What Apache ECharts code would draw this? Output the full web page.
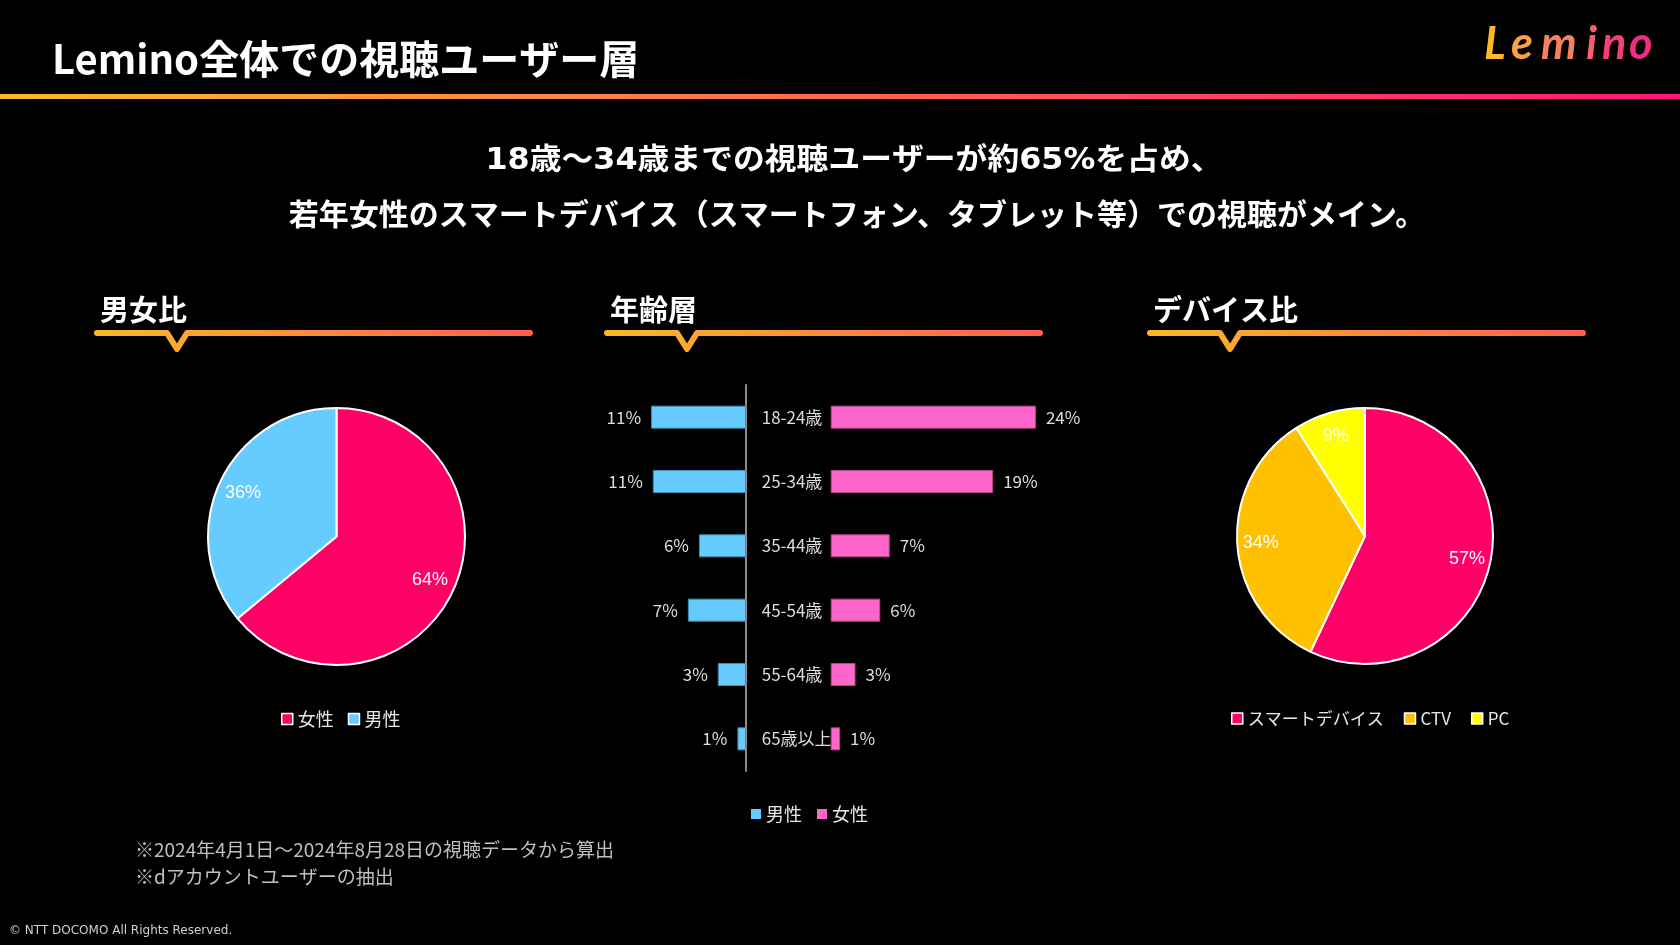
<!DOCTYPE html>
<html><head><meta charset="utf-8">
<script src="https://cdn.jsdelivr.net/npm/echarts@6/dist/echarts.min.js"></script>
<style>html,body{margin:0;padding:0;background:#000;}#c{width:1680px;height:945px;}</style>
</head><body><div id="c"></div>
<script>
// ---- data ----
const genderNames = ['女性', '男性'];
const genderValues = [64, 36];
const deviceNames = ['スマートデバイス', 'CTV', 'PC'];
const deviceValues = [57, 34, 9];
const ageCategories = ['18-24歳', '25-34歳', '35-44歳', '45-54歳', '55-64歳', '65歳以上'];
const ageSeriesNames = ['男性', '女性'];
const ageMale = [11.1, 10.9, 5.5, 6.8, 3.3, 1.0];
const ageFemale = [24.0, 19.0, 6.9, 5.8, 2.9, 1.1];
const titleText = 'Lemino全体での視聴ユーザー層';
const subtitleLines = ['18歳～34歳までの視聴ユーザーが約65%を占め、', '若年女性のスマートデバイス（スマートフォン、タブレット等）での視聴がメイン。'];
const sectionTitles = ['男女比', '年齢層', 'デバイス比'];
const footnotes = ['※2024年4月1日～2024年8月28日の視聴データから算出', '※dアカウントユーザーの抽出'];
const copyright = '© NTT DOCOMO All Rights Reserved.';

// ---- styling ----
const JP = '"Noto Sans CJK JP", sans-serif';
const genderColors = ['#FF0066', '#66CCFF'];
const deviceColors = ['#FF0066', '#FFC000', '#FFFF00'];
const ageColors = ['#66CCFF', '#FF66CC'];
const ageBorders = ['#3F8DB3', '#B9458A'];

const chart = echarts.init(document.getElementById('c'), null, {renderer: 'canvas'});
const LG = echarts.graphic.LinearGradient;

const graphics = [];
graphics.push({type: 'rect', shape: {x: 0, y: 94, width: 1680, height: 5},
  style: {fill: new LG(0, 0, 1, 0, [{offset: 0, color: '#FBBA2A'}, {offset: 0.42, color: '#FF7648'}, {offset: 1, color: '#FF1678'}])}});
graphics.push({type: 'text', style: {text: titleText, x: 52, y: 59, fill: '#fff', font: 'bold 40px ' + JP, textVerticalAlign: 'middle'}});
// logo
const logoLetters = ['L', 'e', 'm', 'i', 'n', 'o'];
const logoX = [1484, 1511, 1541, 1586, 1602, 1629];
const logoC = ['#FBB829', '#F9A148', '#F7805E', '#F55E6E', '#F44079', '#F22A82'];
logoLetters.forEach((ch, i) => graphics.push({type: 'text', style: {text: ch, x: logoX[i], y: 67, fill: logoC[i], font: 'italic bold 45px Lato', textVerticalAlign: 'bottom'}}));
// subtitle
graphics.push({type: 'text', x: 854, y: 161, scaleX: 1.06, style: {text: subtitleLines[0], x: 0, y: 0, fill: '#fff',
  font: 'bold 30px "DejaVu Sans", "Noto Sans CJK JP", sans-serif', textAlign: 'center', textVerticalAlign: 'middle'}});
graphics.push({type: 'text', style: {text: subtitleLines[1], x: 857, y: 214, fill: '#fff', font: 'bold 30px ' + JP, textAlign: 'center', textVerticalAlign: 'middle'}});
const secX = [97, 607, 1150];
sectionTitles.forEach((t, i) => {
  const x0 = secX[i];
  graphics.push({type: 'text', style: {text: t, x: x0 + 3, y: 310, fill: '#fff', font: 'bold 29px ' + JP, textVerticalAlign: 'middle'}});
  graphics.push({type: 'polyline', shape: {points: [[x0, 333], [x0 + 70, 333], [x0 + 80, 349], [x0 + 90, 333], [x0 + 433, 333]]},
    style: {fill: null, lineWidth: 6, lineCap: 'round', lineJoin: 'round',
      stroke: new LG(0, 0, 1, 0, [{offset: 0, color: '#FBB829'}, {offset: 1, color: '#FF5F50'}])}});
});
footnotes.forEach((t, i) => graphics.push({type: 'text', style: {text: t, x: 135, y: [850, 877][i], fill: '#BFBFBF', font: '19px ' + JP, textVerticalAlign: 'middle'}}));
graphics.push({type: 'text', style: {text: copyright, x: 9, y: 931, fill: '#D0D0D0', font: '12px "DejaVu Sans"', textVerticalAlign: 'middle'}});

function pieSeries(names, values, colors, center, r) {
  return {
    type: 'pie', center: center, radius: [0, r], startAngle: 90, clockwise: true,
    silent: true, emphasis: {disabled: true}, label: {show: false}, labelLine: {show: false},
    itemStyle: {borderColor: '#fff', borderWidth: 2},
    data: names.map((n, i) => ({name: n, value: values[i], itemStyle: {color: colors[i]}}))
  };
}
function pieLabelSeries(names, values, center, r0, r) {
  return {
    type: 'pie', center: center, radius: [r0, r], startAngle: 90, clockwise: true,
    silent: true, emphasis: {disabled: true}, labelLine: {show: false},
    itemStyle: {color: 'rgba(0,0,0,0)', borderWidth: 0},
    label: {show: true, position: 'inside', formatter: '{c}%', color: '#fff', fontSize: 18, fontFamily: 'Liberation Sans'},
    data: names.map((n, i) => ({name: n, value: values[i]}))
  };
}

const legendText = {color: '#E8E8E8', fontSize: 18, fontFamily: JP};

const option = {
  backgroundColor: '#000',
  animation: false,
  graphic: graphics,
  legend: [
    {left: 276, top: 705, itemWidth: 11, itemHeight: 11, itemGap: 14, icon: 'rect', textStyle: legendText, selectedMode: false,
      itemStyle: {borderColor: '#fff', borderWidth: 1.5},
      data: genderNames},
    {left: 1226, top: 705, itemWidth: 11, itemHeight: 11, itemGap: 20, icon: 'rect', textStyle: Object.assign({}, legendText, {fontSize: 17}), selectedMode: false,
      itemStyle: {borderColor: '#fff', borderWidth: 1.5},
      data: deviceNames},
    {left: 746, top: 800, itemWidth: 10, itemHeight: 10, itemGap: 15, icon: 'rect', textStyle: legendText, selectedMode: false,
      itemStyle: {borderWidth: 0},
      formatter: n => n.replace('age-', ''),
      data: ageSeriesNames.map(n => 'age-' + n)}
  ],
  grid: [
    {left: 746 - 256.5, top: 385, width: 256.5, height: 386},
    {left: 830.7, top: 385, width: 256.5, height: 386}
  ],
  xAxis: [
    {gridIndex: 0, type: 'value', min: 0, max: 30, inverse: true, show: false},
    {gridIndex: 1, type: 'value', min: 0, max: 30, show: false}
  ],
  yAxis: [
    {gridIndex: 0, type: 'category', data: ageCategories, inverse: true, position: 'right',
      axisLine: {show: true, lineStyle: {color: '#8C8C8C', width: 2}}, axisTick: {show: false}, axisLabel: {show: false}},
    {gridIndex: 1, type: 'category', data: ageCategories, inverse: true, position: 'left',
      axisLine: {show: false}, axisTick: {show: false},
      axisLabel: {show: true, align: 'left', margin: 69, color: '#DDDDDD', fontSize: 17, fontFamily: JP}}
  ],
  series: [
    pieSeries(genderNames, genderValues, genderColors, [336.5, 536.5], 128.5),
    pieSeries(deviceNames, deviceValues, deviceColors, [1365, 536], 128),
    pieLabelSeries(genderNames, genderValues, [336.5, 536.5], 72, 128.5),
    pieLabelSeries(deviceNames, deviceValues, [1365, 536], 75, 128),
    {type: 'bar', name: 'age-' + ageSeriesNames[0], xAxisIndex: 0, yAxisIndex: 0, data: ageMale, barWidth: 23,
      silent: true, itemStyle: {color: ageColors[0], borderColor: ageBorders[0], borderWidth: 1},
      label: {show: true, position: 'left', distance: 10, color: '#DDDDDD', fontSize: 17, fontFamily: JP,
        formatter: p => Math.round(p.value) + '%'}},
    {type: 'bar', name: 'age-' + ageSeriesNames[1], xAxisIndex: 1, yAxisIndex: 1, data: ageFemale, barWidth: 23,
      silent: true, itemStyle: {color: ageColors[1], borderColor: ageBorders[1], borderWidth: 1},
      label: {show: true, position: 'right', distance: 10, color: '#DDDDDD', fontSize: 17, fontFamily: JP,
        formatter: p => Math.round(p.value) + '%'}}
  ]
};
chart.setOption(option);
</script>
</body></html>
